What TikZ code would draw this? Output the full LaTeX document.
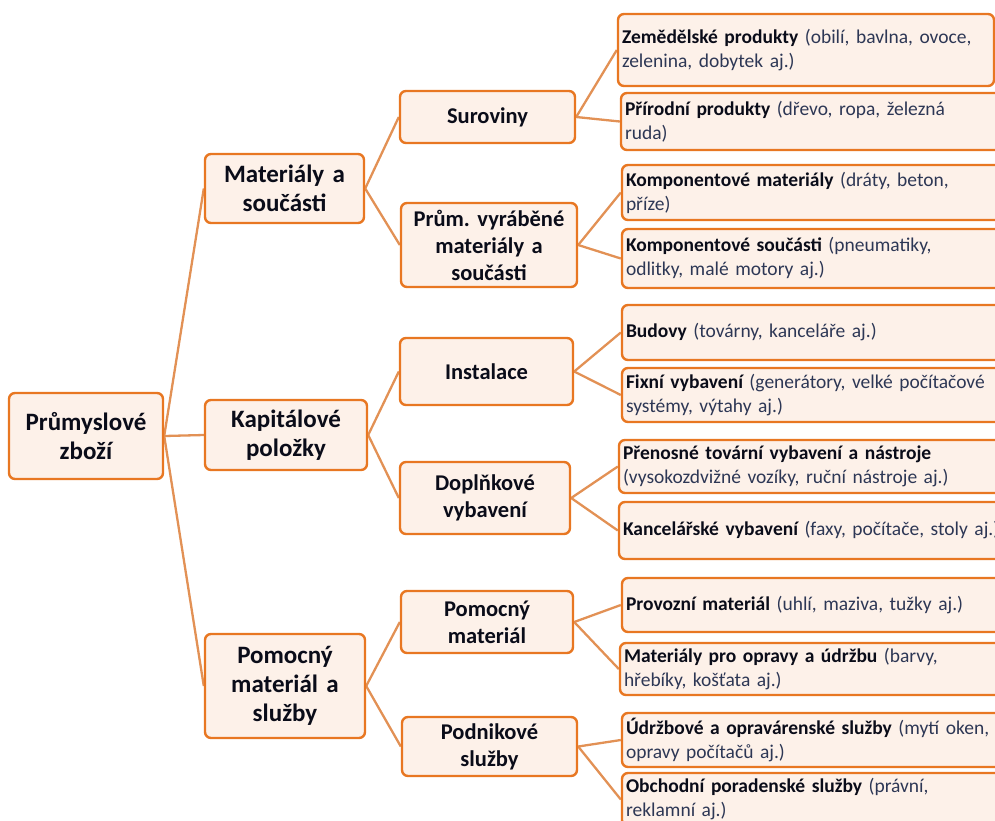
\documentclass[tikz,border=0pt]{standalone}
\usepackage{fontspec}
\setmainfont{Carlito}[WordSpace=0.7]
\usetikzlibrary{backgrounds}
\frenchspacing

\definecolor{boxline}{RGB}{232,119,34}
\definecolor{boxfill}{RGB}{253,241,233}
\definecolor{linkline}{RGB}{226,145,85}
\definecolor{inktext}{RGB}{10,12,25}
\definecolor{notetext}{RGB}{45,55,85}

\tikzset{
  card/.style={draw=boxline, fill=boxfill, line width=2.4pt, rounded corners=6pt,
    inner ysep=0pt, inner xsep=4pt, text=inktext},
  toplabel/.style={card, font=\fontsize{25}{29}\selectfont\bfseries, align=center},
  midlabel/.style={card, font=\fontsize{22.5}{27}\selectfont\bfseries, align=center},
  leaf/.style={card, font=\fontsize{19.5}{24}\selectfont, align=left},
  link/.style={draw=linkline, line width=2.3pt},
}

% bold term followed by its examples in a softer colour
\newcommand{\term}[2]{{\bfseries #1} \textcolor{notetext}{#2}}
\newcommand{\extra}[1]{\textcolor{notetext}{#1}}

% \cardnode{style}{name}{left}{top}{right}{bottom}{text}
\newcommand{\cardnode}[7]{%
  \pgfmathsetmacro{\bxW}{#5-#3}\pgfmathsetmacro{\bxH}{#6-#4}%
  \pgfmathsetmacro{\bxX}{(#3+#5)/2}\pgfmathsetmacro{\bxY}{(#4+#6)/2}%
  \pgfmathsetmacro{\bxT}{#5-#3-8}%
  \node[#1, minimum width=\bxW pt, minimum height=\bxH pt, text width=\bxT pt]
    (#2) at (\bxX,\bxY) {#7};}

\begin{document}
\begin{tikzpicture}[x=1pt, y=-1pt]
\useasboundingbox (0,0) rectangle (995,820);
\clip (0,0) rectangle (995,820);

% root and first level
\cardnode{toplabel}{root}{9}{393}{163}{479}{Průmyslové\\zboží}
\cardnode{toplabel}{mat}{205}{154}{364}{223}{Materiály a\\součásti}
\cardnode{toplabel}{cap}{205}{400}{367}{470}{Kapitálové\\položky}
\cardnode{toplabel}{sup}{205}{634}{365}{738}{Pomocný\\materiál a\\služby}

% second level
\cardnode{midlabel}{raw}{400}{91}{575}{143}{Suroviny}
\cardnode{midlabel}{made}{401}{203}{577}{287}{Prům. vyráběné\\materiály a\\součásti}
\cardnode{midlabel}{inst}{400}{338}{573}{405}{Instalace}
\cardnode{midlabel}{acc}{400}{462}{570}{534}{Doplňkové\\vybavení}
\cardnode{midlabel}{aux}{401}{591}{573}{653}{Pomocný\\materiál}
\cardnode{midlabel}{serv}{402}{717}{577}{776}{Podnikové\\služby}

% leaves (all but the first run on past the right edge)
\cardnode{leaf}{l1}{618}{14}{994}{86}{\term{Zemědělské produkty}{(obilí, bavlna, ovoce,}\\\extra{zelenina, dobytek aj.)}}
\cardnode{leaf}{l2}{621}{93}{1040}{150}{\term{Přírodní produkty}{(dřevo, ropa, železná}\\\extra{ruda)}}
\cardnode{leaf}{l3}{622}{165}{1040}{220}{\term{Komponentové materiály}{(dráty, beton,}\\\extra{příze)}}
\cardnode{leaf}{l4}{622}{229}{1040}{288}{\term{Komponentové součásti}{(pneumatiky,}\\\extra{odlitky, malé motory aj.)}}
\cardnode{leaf}{l5}{622}{305}{1040}{360}{\term{Budovy}{(továrny, kanceláře aj.)}}
\cardnode{leaf}{l6}{622}{368}{1040}{422}{\term{Fixní vybavení}{(generátory, velké počítačové}\\\extra{systémy, výtahy aj.)}}
\cardnode{leaf}{l7}{619}{440}{1040}{493}{{\bfseries Přenosné tovární vybavení a nástroje}\\\extra{(vysokozdvižné vozíky, ruční nástroje aj.)}}
\cardnode{leaf}{l8}{619}{502}{1040}{559}{\term{Kancelářské vybavení}{(faxy, počítače, stoly aj.)}}
\cardnode{leaf}{l9}{622}{578}{1040}{632}{\term{Provozní materiál}{(uhlí, maziva, tužky aj.)}}
\cardnode{leaf}{l10}{620}{643}{1040}{695}{\term{Materiály pro opravy a údržbu}{(barvy,}\\\extra{hřebíky, košťata aj.)}}
\cardnode{leaf}{l11}{622}{713}{1040}{767}{\term{Údržbové a opravárenské služby}{(mytí oken,}\\\extra{opravy počítačů aj.)}}
\cardnode{leaf}{l12}{622}{773}{1040}{826}{\term{Obchodní poradenské služby}{(právní,}\\\extra{reklamní aj.)}}

% connectors
\begin{scope}[on background layer]
  \foreach \kid in {mat,cap,sup} \draw[link] (root.east) -- (\kid.west);
  \foreach \kid in {raw,made} \draw[link] (mat.east) -- (\kid.west);
  \foreach \kid in {inst,acc} \draw[link] (cap.east) -- (\kid.west);
  \foreach \kid in {aux,serv} \draw[link] (sup.east) -- (\kid.west);
  \foreach \kid in {l1,l2} \draw[link] (raw.east) -- (\kid.west);
  \foreach \kid in {l3,l4} \draw[link] (made.east) -- (\kid.west);
  \foreach \kid in {l5,l6} \draw[link] (inst.east) -- (\kid.west);
  \foreach \kid in {l7,l8} \draw[link] (acc.east) -- (\kid.west);
  \foreach \kid in {l9,l10} \draw[link] (aux.east) -- (\kid.west);
  \foreach \kid in {l11,l12} \draw[link] (serv.east) -- (\kid.west);
\end{scope}
\end{tikzpicture}
\end{document}
